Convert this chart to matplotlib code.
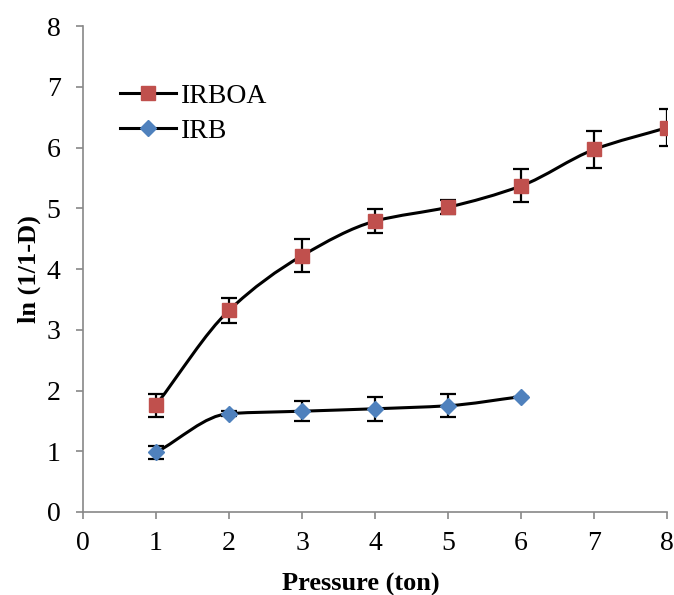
import numpy as np
import matplotlib
matplotlib.use("Agg")
from matplotlib import pyplot as plt
from matplotlib.path import Path
from matplotlib.patches import PathPatch

plt.rcParams["font.family"] = ["Liberation Serif", "DejaVu Serif"]

pressure_irboa = [1, 2, 3, 4, 5, 6, 7, 8]
irboa = [1.76, 3.32, 4.22, 4.79, 5.02, 5.37, 5.97, 6.33]
irboa_err = [0.19, 0.2, 0.27, 0.2, 0.12, 0.27, 0.3, 0.3]

pressure_irb = [1, 2, 3, 4, 5, 6]
irb = [0.98, 1.62, 1.66, 1.70, 1.75, 1.90]
irb_err = [0.1, 0.04, 0.16, 0.2, 0.19, 0.0]


def smooth_path(x, y):
    # smoothed line through the points (monotone tangents, bezier segments)
    x = np.asarray(x, float)
    y = np.asarray(y, float)
    d = np.diff(y) / np.diff(x)
    m = np.zeros_like(y)
    m[0], m[-1] = d[0], d[-1]
    for i in range(1, len(x) - 1):
        if d[i - 1] * d[i] > 0:
            m[i] = 2 / (1 / d[i - 1] + 1 / d[i])
    verts = [(x[0], y[0])]
    codes = [Path.MOVETO]
    for i in range(len(x) - 1):
        h = (x[i + 1] - x[i]) / 3
        verts += [(x[i] + h, y[i] + m[i] * h),
                  (x[i + 1] - h, y[i + 1] - m[i + 1] * h),
                  (x[i + 1], y[i + 1])]
        codes += [Path.CURVE4] * 3
    return Path(verts, codes)


fig = plt.figure(figsize=(6.74, 5.95), dpi=100)
ax = fig.add_axes([0.123, 0.1395, 0.867, 0.8165])

for xs, ys, es, color, marker, ms, label in [
    (pressure_irboa, irboa, irboa_err, "#c0504d", "s", 9.5, "IRBOA"),
    (pressure_irb, irb, irb_err, "#4f81bd", "D", 8.5, "IRB"),
]:
    ax.add_patch(PathPatch(smooth_path(xs, ys), fill=False, lw=2.2, ec="black", zorder=2))
    ax.errorbar(xs, ys, yerr=es, fmt="none", ecolor="black", elinewidth=1.6,
                capsize=5.5, capthick=1.6, zorder=3)
    ax.plot(xs, ys, ls="none", marker=marker, ms=ms, color=color, zorder=4)
    ax.plot([], [], "-", color="black", lw=2.2, marker=marker, ms=ms,
            mfc=color, mec=color, label=label)

ax.set_xlim(0, 8)
ax.set_ylim(0, 8)
ax.set_xticks(range(0, 9))
ax.set_yticks(range(0, 9))
for s in ["top", "right"]:
    ax.spines[s].set_visible(False)
for s in ["left", "bottom"]:
    ax.spines[s].set_color("#888888")
    ax.spines[s].set_linewidth(1.2)
ax.tick_params(direction="out", length=5, width=1.2, color="#888888",
               labelsize=20)
ax.tick_params(axis="x", pad=9)
ax.tick_params(axis="y", pad=11)
ax.set_xlabel("Pressure (ton)", fontsize=19, fontweight="bold", labelpad=12)
ax.set_ylabel("ln (1/1-D)", fontsize=19, fontweight="bold", labelpad=4)
ax.xaxis.label.set_x(0.476)

ax.legend(loc="upper left", bbox_to_anchor=(0.045, 0.905), frameon=False,
          fontsize=20, handlelength=2.0, handletextpad=0.2, labelspacing=0.35,
          borderaxespad=0)

fig.savefig("out.png", dpi=100)
